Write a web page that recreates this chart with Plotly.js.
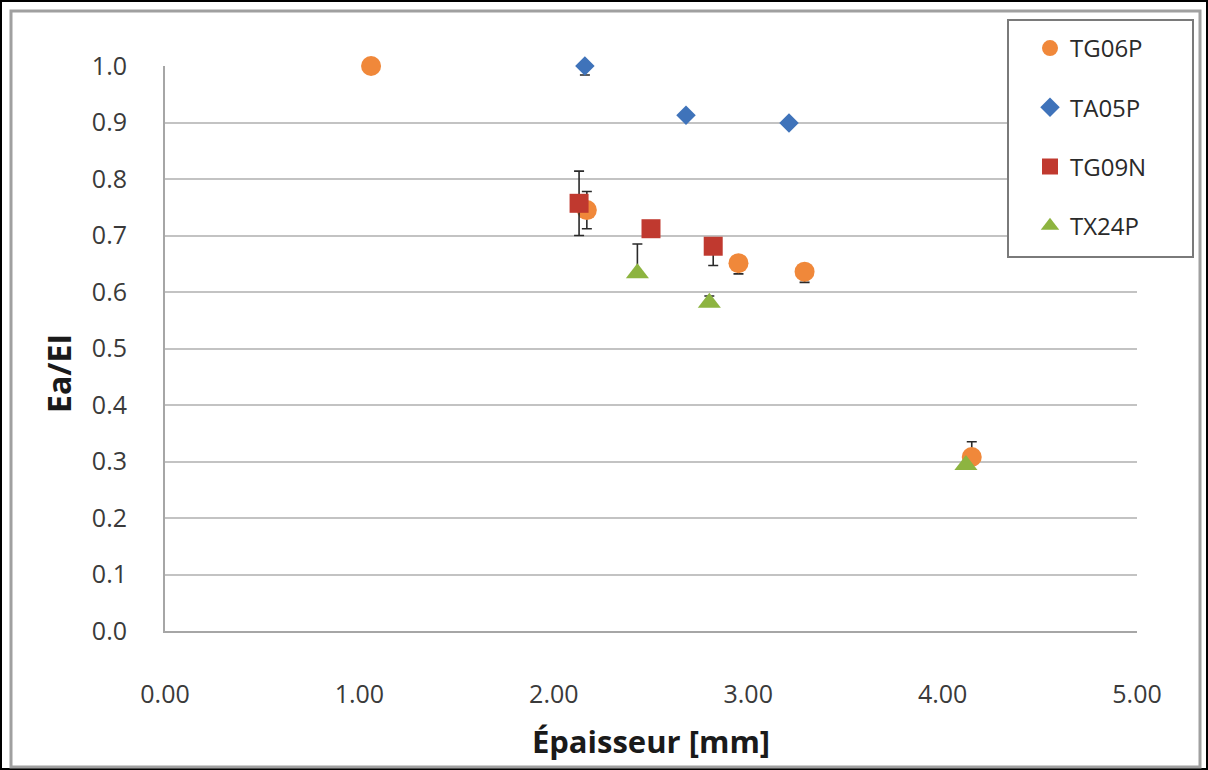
<!DOCTYPE html>
<html>
<head>
<meta charset="utf-8">
<script src="https://cdn.plot.ly/plotly-3.0.1.min.js"></script>
<style>
  html, body { margin: 0; padding: 0; background: #ffffff; }
  #chart { width: 1208px; height: 770px; }
</style>
</head>
<body>
<div id="chart"></div>
<script>
// ---- data ----
const seriesNames = ["TG06P", "TA05P", "TG09N", "TX24P"];

const tg06pX = [1.06, 2.17, 2.95, 3.29, 4.15];
const tg06pY = [1.00, 0.745, 0.651, 0.636, 0.308];
const tg06pErrPlus = [0, 0.033, 0, 0, 0.027];
const tg06pErrMinus = [0, 0.033, 0.019, 0.019, 0.01];

const ta05pX = [2.16, 2.68, 3.21];
const ta05pY = [1.00, 0.913, 0.899];
const ta05pErrPlus = [0, 0, 0];
const ta05pErrMinus = [0.016, 0, 0];

const tg09nX = [2.13, 2.50, 2.82];
const tg09nY = [0.757, 0.712, 0.681];
const tg09nErrPlus = [0.057, 0, 0];
const tg09nErrMinus = [0.057, 0, 0.034];

const tx24pX = [2.43, 2.80, 4.12];
const tx24pY = [0.633, 0.581, 0.294];
const tx24pErrPlus = [0.052, 0.012, 0];
const tx24pErrMinus = [0, 0, 0];

const xTickVals = [0, 1, 2, 3, 4, 5];
const xTickText = ["0.00", "1.00", "2.00", "3.00", "4.00", "5.00"];
const yTickVals = [0, 0.1, 0.2, 0.3, 0.4, 0.5, 0.6, 0.7, 0.8, 0.9, 1.0];
const yTickText = ["0.0", "0.1", "0.2", "0.3", "0.4", "0.5", "0.6", "0.7", "0.8", "0.9", "1.0"];

const xTitle = "Épaisseur [mm]";
const yTitle = "Ea/EI";

// ---- styling ----
const colors = ["#F0883A", "#3F73BA", "#C0392F", "#8DB440"];
const symbols = ["circle", "diamond", "square", "triangle-up"];
const sizes = [20, 15, 19, 20];

function errBar(plus, minus) {
  return { type: "data", symmetric: false, array: plus, arrayminus: minus,
           color: "#2a2a2a", thickness: 1.6, width: 5 };
}

const xs = [tg06pX, ta05pX, tg09nX, tx24pX];
const ys = [tg06pY, ta05pY, tg09nY, tx24pY];
const eps = [tg06pErrPlus, ta05pErrPlus, tg09nErrPlus, tx24pErrPlus];
const ems = [tg06pErrMinus, ta05pErrMinus, tg09nErrMinus, tx24pErrMinus];

const traces = seriesNames.map((name, i) => ({
  type: "scatter",
  mode: "markers",
  name: name,
  legendgroup: name,
  x: xs[i],
  y: ys[i],
  cliponaxis: false,
  marker: { color: colors[i], symbol: symbols[i], size: sizes[i], line: { width: 0 } },
  error_y: errBar(eps[i], ems[i])
}));

// pixel -> paper helpers (plot area: x 165..1137, y 66..631)
const L = 165, R = 1137, T = 66, B = 631;
const px = v => (v - L) / (R - L);
const py = v => (B - v) / (B - T);

const layout = {
  width: 1208,
  height: 770,
  paper_bgcolor: "#ffffff",
  plot_bgcolor: "#ffffff",
  margin: { l: L, r: 1208 - R, t: T, b: 770 - B, pad: 0 },
  font: { family: "Open Sans, Liberation Sans, sans-serif", color: "#3a3a3a", size: 24 },
  showlegend: true,
  legend: {
    x: px(1030), y: py(26), xanchor: "left", yanchor: "top",
    bgcolor: "rgba(0,0,0,0)", borderwidth: 0,
    font: { size: 24, color: "#2a2a2a" },
    traceorder: "grouped",
    tracegroupgap: 25,
    itemsizing: "trace"
  },
  xaxis: {
    range: [0, 5],
    tickmode: "array", tickvals: xTickVals, ticktext: xTickText,
    showgrid: false, zeroline: false,
    showline: true, linecolor: "#A6A6A6", linewidth: 2,
    ticks: "", ticklabelstandoff: 40,
    tickfont: { size: 25, color: "#3a3a3a" },
    title: { text: xTitle, font: { size: 31, color: "#1a1a1a", family: "Open Sans, sans-serif", weight: "bold" }, standoff: 22 }
  },
  yaxis: {
    range: [0, 1.0],
    tickmode: "array", tickvals: yTickVals, ticktext: yTickText,
    showgrid: true, gridcolor: "#C3C3C3", gridwidth: 2,
    zeroline: false,
    showline: true, linecolor: "#A6A6A6", linewidth: 2,
    ticks: "", ticklabelstandoff: 31,
    tickfont: { size: 25, color: "#3a3a3a" }
  },
  annotations: [
    { xref: "paper", yref: "paper", x: px(58), y: py(374), xanchor: "center", yanchor: "middle",
      text: "<b>" + yTitle + "</b>", textangle: -90, showarrow: false,
      font: { size: 32, color: "#1a1a1a", family: "Open Sans, sans-serif" } }
  ],
  shapes: [
    // outer black border
    { type: "rect", xref: "paper", yref: "paper", layer: "above",
      x0: px(1), x1: px(1207), y0: py(769), y1: py(1),
      line: { color: "#000000", width: 2 }, fillcolor: "rgba(0,0,0,0)" },
    // inner gray chart frame
    { type: "rect", xref: "paper", yref: "paper", layer: "above",
      x0: px(11), x1: px(1200), y0: py(767), y1: py(11),
      line: { color: "#A0A0A0", width: 3 }, fillcolor: "rgba(0,0,0,0)" },
    // legend frame
    { type: "rect", xref: "paper", yref: "paper", layer: "above",
      x0: px(1008), x1: px(1193), y0: py(257), y1: py(20),
      line: { color: "#7a7a7a", width: 2 }, fillcolor: "#ffffff" }
  ]
};

Plotly.newPlot("chart", traces, layout, { displayModeBar: false, staticPlot: true });
</script>
</body>
</html>
